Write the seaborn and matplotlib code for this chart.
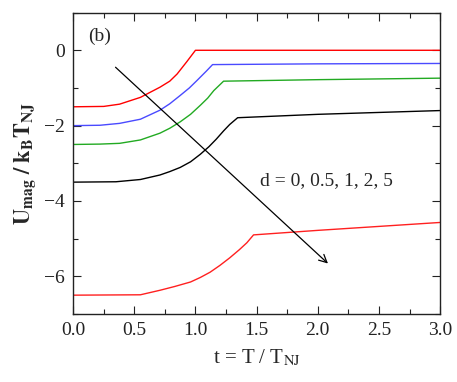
import numpy as np
import pandas as pd
import seaborn as sns
import matplotlib.pyplot as plt
from matplotlib.ticker import MultipleLocator

sns.set_style("ticks")
plt.rcParams['font.family'] = ['Liberation Serif', 'DejaVu Serif']
plt.rcParams['mathtext.fontset'] = 'stix'

# curves, one per d value
t_d0 = [0.0, 0.25, 0.38, 0.55, 0.71, 0.79, 0.85, 0.93, 1.0, 3.0]
u_d0 = [-1.5, -1.49, -1.43, -1.25, -0.98, -0.82, -0.63, -0.3, 0.0, 0.0]

t_d05 = [0.0, 0.22, 0.38, 0.55, 0.71, 0.79, 0.875, 0.95, 1.01, 1.09, 1.14, 2.0, 3.0]
u_d05 = [-2.0, -1.99, -1.94, -1.83, -1.59, -1.42, -1.2, -1.0, -0.81, -0.55, -0.38, -0.36, -0.35]

t_d1 = [0.0, 0.22, 0.38, 0.55, 0.71, 0.79, 0.875, 0.96, 1.04, 1.1, 1.15, 1.23, 2.0, 3.0]
u_d1 = [-2.5, -2.49, -2.47, -2.38, -2.2, -2.07, -1.9, -1.7, -1.46, -1.27, -1.07, -0.82, -0.78, -0.74]

t_d2 = [0.0, 0.35, 0.55, 0.71, 0.79, 0.875, 0.96, 1.04, 1.11, 1.17, 1.23, 1.28, 1.345, 2.0, 3.0]
u_d2 = [-3.5, -3.49, -3.43, -3.31, -3.22, -3.11, -2.96, -2.76, -2.56, -2.36, -2.14, -1.97, -1.79, -1.7, -1.6]

t_d5 = [0.0, 0.55, 0.71, 0.83, 0.96, 1.04, 1.12, 1.2, 1.28, 1.36, 1.42, 1.475, 2.0, 3.0]
u_d5 = [-6.5, -6.49, -6.37, -6.27, -6.15, -6.03, -5.89, -5.71, -5.51, -5.29, -5.11, -4.9, -4.78, -4.57]

d_labels = ["0", "0.5", "1", "2", "5"]
curve_colors = ["#ff0000", "#4a4aff", "#22aa22", "#000000", "#ff2020"]

frames = []
for lab, t, u in zip(d_labels, [t_d0, t_d05, t_d1, t_d2, t_d5],
                     [u_d0, u_d05, u_d1, u_d2, u_d5]):
    frames.append(pd.DataFrame({"t": t, "U": u, "d": lab}))
df = pd.concat(frames, ignore_index=True)

fig = plt.figure(figsize=(4.57, 3.82), dpi=100)
ax = fig.add_axes([0.16, 0.178, 0.803, 0.789])

sns.lineplot(data=df, x="t", y="U", hue="d", palette=curve_colors,
             linewidth=1.0, legend=False, ax=ax, sort=False)

ax.set_xlim(0, 3.0)
ax.set_ylim(-7, 1)
ax.xaxis.set_major_locator(MultipleLocator(0.5))
ax.xaxis.set_minor_locator(MultipleLocator(0.25))
ax.yaxis.set_major_locator(MultipleLocator(2))
ax.yaxis.set_minor_locator(MultipleLocator(1))
ax.xaxis.set_major_formatter(plt.FuncFormatter(lambda v, p: f"{v:.1f}"))
ax.tick_params(which="both", direction="in", top=True, right=True,
               labelsize=14, width=0.8, colors="#222222")
ax.tick_params(which="major", length=6, pad=6)
ax.tick_params(which="minor", length=3.5)
for s in ax.spines.values():
    s.set_linewidth(1.0)
    s.set_color("#222222")

ax.set_xlabel(r"t = T / T$_{\mathrm{NJ}}$", fontsize=15, labelpad=6)
ax.set_ylabel(r"$\mathbf{U_{mag}\ /\ k_B T_{NJ}}$", fontsize=16, labelpad=4)

ax.text(0.12, 0.37, "(b)", fontsize=14, va="center")
ax.text(1.53, -3.45, "d = 0, 0.5, 1, 2, 5", fontsize=14, va="center")
ax.annotate("", xy=(2.1, -5.71), xytext=(0.33, -0.4),
            arrowprops=dict(arrowstyle="->", color="black", lw=0.9,
                            mutation_scale=14))

fig.savefig("out.png", dpi=100)
